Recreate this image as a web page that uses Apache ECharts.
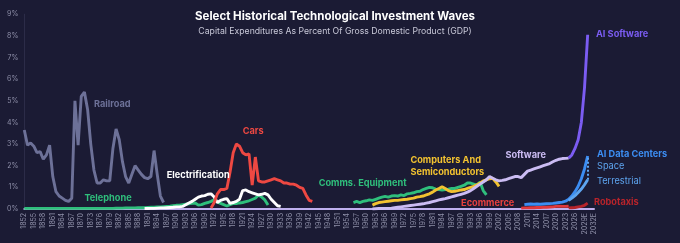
<!DOCTYPE html>
<html>
<head>
<meta charset="utf-8">
<script src="https://cdn.jsdelivr.net/npm/echarts@6/dist/echarts.min.js"></script>
<style>
  html, body { margin: 0; padding: 0; background: #1b1b34; }
  #chart { width: 680px; height: 243px; }
</style>
</head>
<body>
<div id="chart"></div>
<script>
// years on the x axis, 2027 onwards are estimates
const firstYear = 1852;
const lastYear = 2032;
const yTicks = [0, 1, 2, 3, 4, 5, 6, 7, 8, 9];

// each series: first year + yearly values (% of GDP)
const railroadStart = 1852;
const railroad = [3.65, 2.95, 3.05, 2.9, 2.6, 2.65, 2.3, 2.5, 2.95, 1.5, 0.8, 0.6, 0.5, 0.4, 0.35, 0.5,
  5.0, 2.95, 5.2, 5.4, 4.6, 3.0, 1.8, 1.2, 1.2, 1.35, 1.3, 1.3, 2.8, 3.7, 3.2, 2.2, 1.5, 1.2, 1.6, 2.0,
  1.8, 1.6, 1.45, 1.4, 1.5, 2.7, 1.6, 0.6, 0.3];

const telephoneStart = 1852;
const telephone = [0.03, 0.03, 0.03, 0.03, 0.03, 0.03, 0.03, 0.03, 0.03, 0.03, 0.03, 0.03, 0.03, 0.03,
  0.03, 0.03, 0.03, 0.03, 0.03, 0.03, 0.03, 0.03, 0.03, 0.03, 0.03, 0.03, 0.03, 0.03, 0.03, 0.04,
  0.04, 0.04, 0.05, 0.05, 0.05, 0.05, 0.06, 0.06, 0.06, 0.07, 0.08, 0.08, 0.09, 0.1, 0.11, 0.12,
  0.13, 0.15, 0.17, 0.18, 0.2, 0.22, 0.24, 0.26, 0.28, 0.18, 0.2, 0.26, 0.3, 0.35, 0.42, 0.32, 0.26,
  0.2, 0.14, 0.2, 0.26, 0.25, 0.28, 0.3, 0.34, 0.38, 0.44, 0.5, 0.65, 0.55, 0.42, 0.18];

const electrificationStart = 1890;
const electrification = [0.02, 0.02, 0.03, 0.03, 0.04, 0.05, 0.05, 0.06, 0.07, 0.08, 0.1, 0.1, 0.12,
  0.2, 0.28, 0.35, 0.45, 0.55, 0.6, 0.62, 0.68, 0.7, 0.55, 0.3, 0.4, 0.45, 0.48, 0.26, 0.3, 0.35,
  0.45, 0.85, 0.88, 0.8, 0.75, 0.7, 0.65, 0.68, 0.72, 0.65, 0.45, 0.3, 0.15, 0.12];

const carsStart = 1911;
const cars = [0.05, 0.3, 0.7, 0.9, 0.9, 0.95, 1.7, 2.6, 3.0, 2.9, 2.6, 2.5, 2.55, 1.1, 2.4, 1.3, 1.25,
  1.25, 1.3, 1.35, 1.4, 1.35, 1.3, 1.2, 1.2, 1.15, 1.15, 1.1, 1.0, 0.95, 0.65, 0.4, 0.35];

const commsStart = 1956;
const comms = [0.3, 0.35, 0.3, 0.35, 0.38, 0.42, 0.4, 0.45, 0.5, 0.55, 0.58, 0.55, 0.6, 0.62, 0.6, 0.65,
  0.62, 0.7, 0.72, 0.75, 0.8, 0.82, 0.9, 0.95, 1.0, 0.98, 0.92, 0.9, 0.88, 0.9, 0.92, 0.95, 0.95,
  1.0, 1.05, 1.1, 1.2, 1.2, 1.15, 1.1, 1.25, 0.85, 0.65];

const computersStart = 1962;
const computers = [0.18, 0.25, 0.3, 0.32, 0.34, 0.36, 0.38, 0.4, 0.4, 0.42, 0.44, 0.45, 0.48, 0.5, 0.55,
  0.57, 0.6, 0.65, 0.7, 0.78, 0.88, 0.95, 1.03, 0.95, 0.85, 0.8, 0.82, 0.85, 0.88, 0.9, 0.95, 1.0,
  1.05, 1.12, 1.2, 1.3, 1.35, 1.4, 1.42, 1.25, 1.05];

const softwareStart = 1962;
const software = [0.0, 0.01, 0.02, 0.02, 0.03, 0.03, 0.04, 0.06, 0.08, 0.1, 0.12, 0.14, 0.16, 0.18, 0.2,
  0.22, 0.24, 0.27, 0.3, 0.34, 0.38, 0.42, 0.45, 0.48, 0.52, 0.56, 0.6, 0.64, 0.68, 0.72, 0.78, 0.85,
  0.95, 1.05, 1.15, 1.25, 1.35, 1.5, 1.42, 1.35, 1.3, 1.32, 1.35, 1.4, 1.45, 1.5, 1.5, 1.45, 1.6,
  1.75, 1.8, 1.85, 1.9, 1.95, 2.0, 2.05, 2.1, 2.18, 2.25, 2.3, 2.33, 2.34, 2.35];

const ecommerceStart = 2009;
const ecommerce = [0.04, 0.05, 0.05, 0.06, 0.06, 0.07, 0.07, 0.08, 0.08, 0.09, 0.1, 0.12, 0.13, 0.12,
  0.12, 0.13];

const aiSoftwareStart = 2024;
const aiSoftware = [2.35, 2.5, 2.8, 3.2, 4.0, 5.6, 8.05];

const aiDataCentersStart = 2010;
const aiDataCenters = [0.2, 0.22, 0.23, 0.22, 0.23, 0.22, 0.23, 0.24, 0.25, 0.26, 0.28, 0.3, 0.32, 0.36,
  0.45, 0.6, 0.8, 1.05, 1.4, 1.85, 2.45];

const terrestrialStart = 2024;
const terrestrial = [0.4, 0.5, 0.62, 0.76, 0.92, 1.12, 1.35];

const robotaxisStart = 2024;
const robotaxis = [0.05, 0.06, 0.07, 0.1, 0.12, 0.17, 0.27];

const years = [];
for (let y = firstYear; y <= lastYear; y++) {
  years.push(y >= 2027 ? y + 'E' : String(y));
}

function pad(start, values) {
  let arr = new Array(years.length).fill(null);
  for (let i = 0; i < values.length; i++) {
    arr[start - firstYear + i] = values[i];
  }
  return arr;
}

function yearLabel(y) {
  return y >= 2027 ? y + 'E' : String(y);
}

const fontFamily = 'Inter, "Noto Sans", sans-serif';

function label(text, year, value, color, extra) {
  return {
    coord: [yearLabel(year), value],
    symbolSize: 0,
    label: Object.assign({
      show: true,
      position: 'right',
      distance: 0,
      formatter: text,
      color: color,
      fontSize: 9.2,
      fontWeight: 'bold',
      fontFamily: fontFamily,
      lineHeight: 12
    }, extra || {})
  };
}

function line(name, start, values, color, width, labels, extra) {
  let s = {
    name: name,
    type: 'line',
    data: pad(start, values),
    symbol: 'none',
    connectNulls: false,
    lineStyle: { color: color, width: width },
    itemStyle: { color: color },
    emphasis: { disabled: true },
    silent: true
  };
  if (labels) {
    s.markPoint = { symbol: 'circle', symbolSize: 0, silent: true, data: labels };
  }
  return Object.assign(s, extra || {});
}

const green = '#2fbf7c';
const w = 2.9;
const series = [
  line('Railroad', railroadStart, railroad, '#6d7198', w, [label('Railroad', 1874, 4.85, '#6d7198')]),
  line('Telephone', telephoneStart, telephone, green, w, [label('Telephone', 1871, 0.5, green)]),
  line('Electrification', electrificationStart, electrification, '#ffffff', w,
    [label('Electrification', 1897, 1.57, '#ffffff')]),
  line('Cars', carsStart, cars, '#ee4842', w, [label('Cars', 1921, 3.6, '#ee4842')]),
  line('Comms. Equipment', commsStart, comms, green, w, [label('Comms. Equipment', 1945, 1.2, green)]),
  line('Computers And Semiconductors', computersStart, computers, '#f2c230', w,
    [label('Computers And\nSemiconductors', 1974, 1.99, '#f2c230')]),
  line('Software', softwareStart, software, '#cbbcf3', w, [label('Software', 2004, 2.5, '#cbbcf3')]),
  line('Ecommerce', ecommerceStart, ecommerce, '#e0383c', w, [label('Ecommerce', 1990, 0.28, '#e8403f')]),
  line('AI Data Centers', aiDataCentersStart, aiDataCenters, '#3c8df2', w, [
    label('AI Data Centers', 2032, 2.54, '#3c8df2', { distance: 3 }),
    label('Space', 2032, 1.99, '#5ea5f0', { distance: 3, fontWeight: 'normal' }),
    label('Terrestrial', 2032, 1.29, '#5ea5f0', { distance: 3, fontWeight: 'normal' })
  ], {
    markLine: {
      silent: true,
      symbol: 'none',
      label: { show: false },
      lineStyle: { color: '#5ea5f0', type: 'dotted', width: 2 },
      data: [[{ coord: ['2030E', 1.35] }, { coord: ['2030E', 2.45] }]]
    }
  }),
  line('Terrestrial', terrestrialStart, terrestrial, '#5ea5f0', w),
  line('AI Software', aiSoftwareStart, aiSoftware, '#7b5cf2', w,
    [label('AI Software', 2032, 8.08, '#7b5cf2', { distance: 2 })]),
  line('Robotaxis', robotaxisStart, robotaxis, '#b8242b', w,
    [label('Robotaxis', 2032, 0.32, '#b8242b', { distance: 0 })])
];

let chart = echarts.init(document.getElementById('chart'));
chart.setOption({
  backgroundColor: '#1b1b34',
  animation: false,
  title: {
    text: 'Select Historical Technological Investment Waves',
    subtext: 'Capital Expenditures As Percent Of Gross Domestic Product (GDP)',
    left: 330,
    top: 6,
    textAlign: 'center',
    itemGap: 4,
    textStyle: { color: '#ffffff', fontSize: 11.5, fontWeight: 'bold', fontFamily: fontFamily },
    subtextStyle: { color: '#c8c8d8', fontSize: 8.7, fontFamily: fontFamily }
  },
  grid: { left: 24.3, right: 86, top: 14.2, bottom: 34, containLabel: false },
  xAxis: {
    type: 'category',
    data: years,
    boundaryGap: false,
    axisLine: { show: true, lineStyle: { color: '#bfb0ee', width: 2 } },
    axisTick: { show: false },
    splitLine: { show: false },
    axisLabel: {
      interval: 2,
      rotate: 90,
      color: '#8e8fa8',
      fontSize: 7,
      margin: 4,
      fontFamily: fontFamily
    }
  },
  yAxis: {
    type: 'value',
    min: 0,
    max: 9,
    interval: 1,
    axisLine: { show: true, lineStyle: { color: '#2c2c48', width: 1 } },
    axisTick: { show: false },
    splitLine: { show: false },
    axisLabel: {
      color: '#8e8fa8',
      fontSize: 7,
      margin: 6,
      fontFamily: fontFamily,
      formatter: function (v) { return yTicks.indexOf(v) >= 0 ? v + '%' : ''; }
    }
  },
  series: series
});
</script>
</body>
</html>
